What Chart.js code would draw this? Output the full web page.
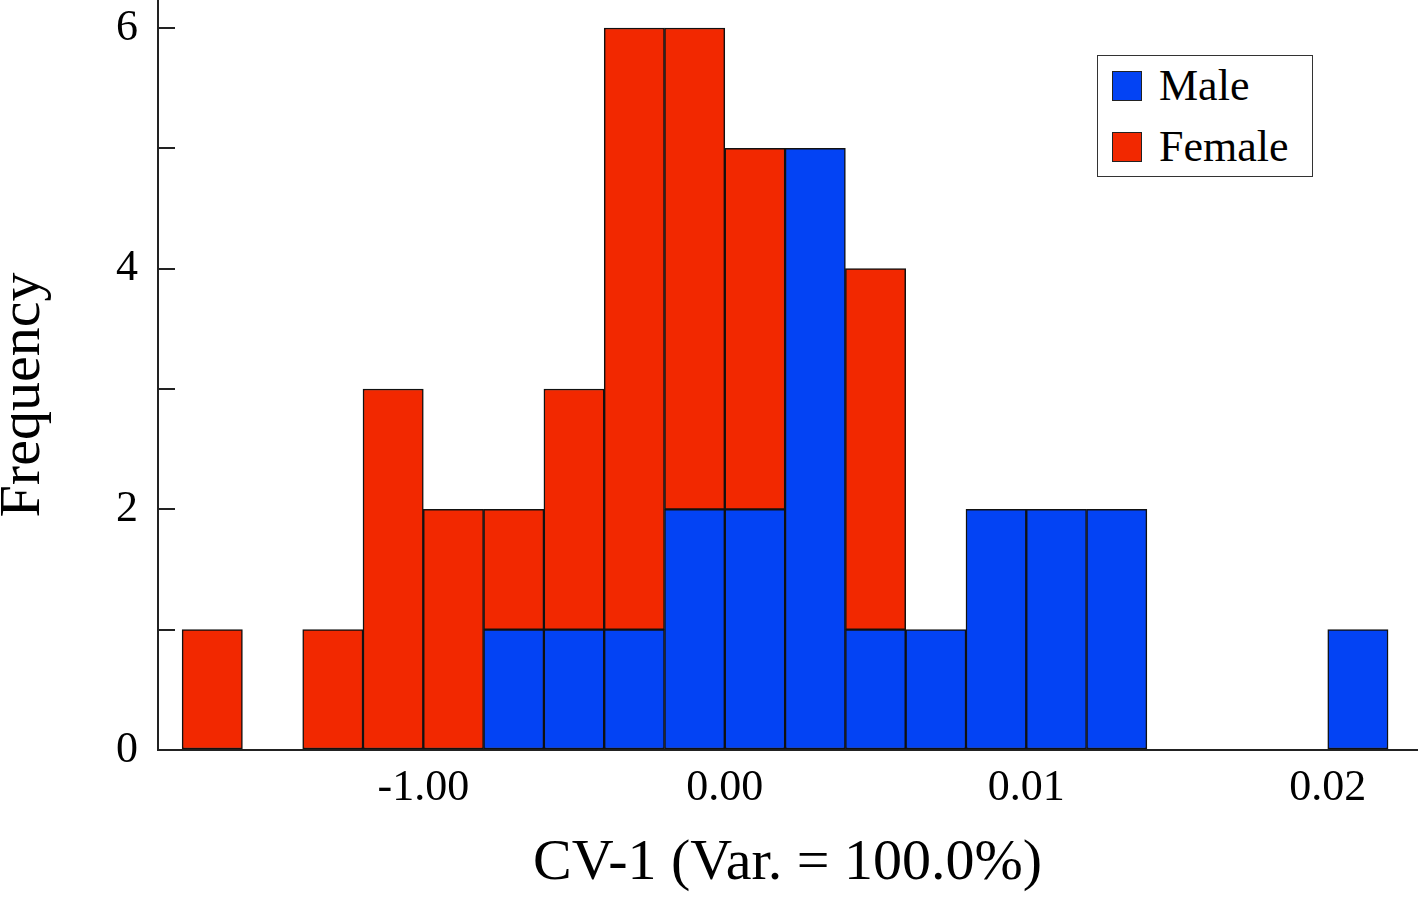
<!DOCTYPE html>
<html>
<head>
<meta charset="utf-8">
<script src="https://cdn.jsdelivr.net/npm/chart.js@4.4.0/dist/chart.umd.min.js"></script>
<style>
    body { margin: 0; background: #fff; }
    #wrap { position: relative; width: 1418px; height: 899px; }
    #legend {
        position: absolute; left: 1097px; top: 55px; width: 214px; height: 120px;
        border: 1.5px solid #333; background: #fff;
        font-family: 'Liberation Serif', 'Times New Roman', serif; font-size: 44px; color: #000;
    }
    #legend .item { position: absolute; left: 14px; display: flex; align-items: center; height: 30px; line-height: 30px; }
    #legend .swatch { width: 28px; height: 28px; border: 1.5px solid #222; margin-right: 17px; }
</style>
</head>
<body>
<div id="wrap">
    <canvas id="histChart"></canvas>
    <div id="legend"></div>
</div>
<script>
// 直方图的分箱（按箱序号）与频数
const bins = [0, 1, 2, 3, 4, 5, 6, 7, 8, 9, 10, 11, 12, 13, 14, 15, 16, 17, 18, 19];
const male = [0, 0, 0, 0, 0, 1, 1, 1, 2, 2, 5, 1, 1, 2, 2, 2, 0, 0, 0, 1];
const female = [1, 0, 1, 3, 2, 1, 2, 5, 4, 3, 0, 3, 0, 0, 0, 0, 0, 0, 0, 0];

// x 轴刻度（在箱边界处）及其标签
const xTickValues = [4, 9, 14, 19];
const xTickLabels = ['-1.00', '0.00', '0.01', '0.02'];
const yTickLabels = { 0: '0', 2: '2', 4: '4', 6: '6' };

const serif = "'Liberation Serif', 'Times New Roman', serif";
const BLUE = '#0343F4';
const RED = '#F22800';

function toPoints(values) {
    return bins.map((b, i) => ({ x: b + 0.5, y: values[i] }));
}

// y 轴标题（竖排），位置相对绘图区
const yTitlePlugin = {
    id: 'yTitle',
    afterDraw(chart) {
        const c = chart.ctx;
        const area = chart.chartArea;
        c.save();
        c.translate(24, (area.top + area.bottom) / 2 + 20);
        c.rotate(-Math.PI / 2);
        c.font = '58px ' + serif;
        c.fillStyle = '#000';
        c.textAlign = 'center';
        c.textBaseline = 'middle';
        c.fillText('Frequency', 0, 0);
        c.restore();
    }
};

document.addEventListener('DOMContentLoaded', function() {
    const ctx = document.getElementById('histChart');
    const chart = new Chart(ctx, {
        type: 'bar',
        data: {
            datasets: [{
                label: 'Male',
                data: toPoints(male),
                backgroundColor: BLUE,
                borderColor: '#111',
                borderWidth: 1.5,
                borderSkipped: false,
                barPercentage: 1,
                categoryPercentage: 1
            }, {
                label: 'Female',
                data: toPoints(female),
                backgroundColor: RED,
                borderColor: '#111',
                borderWidth: 1.5,
                borderSkipped: false,
                barPercentage: 1,
                categoryPercentage: 1
            }]
        },
        options: {
            responsive: true,
            maintainAspectRatio: false,
            animation: false,
            layout: { autoPadding: false, padding: { top: 0, right: 1, bottom: 0, left: 0 } },
            plugins: {
                legend: { display: false },
                tooltip: { enabled: false }
            },
            scales: {
                x: {
                    type: 'linear',
                    stacked: true,
                    offset: false,
                    min: -0.4,
                    max: 20.48,
                    afterBuildTicks: scale => {
                        scale.ticks = xTickValues.map(v => ({ value: v }));
                    },
                    afterFit: scale => {
                        scale.height = 149;
                        scale.paddingLeft = 0;
                        scale.paddingRight = 0;
                    },
                    grid: { display: false, drawTicks: false, offset: false },
                    border: { display: true, color: '#222', width: 2 },
                    ticks: {
                        padding: 16,
                        color: '#000',
                        font: { family: serif, size: 44, lineHeight: 1 },
                        callback: v => xTickLabels[xTickValues.indexOf(v)] || ''
                    },
                    title: {
                        display: true,
                        text: 'CV-1 (Var. = 100.0%)',
                        color: '#000',
                        font: { family: serif, size: 58, lineHeight: 1 },
                        padding: { top: 0, bottom: 6 }
                    }
                },
                y: {
                    stacked: true,
                    min: 0,
                    max: 6.233,
                    afterFit: scale => {
                        scale.width = 158;
                        scale.paddingTop = 0;
                        scale.paddingBottom = 0;
                    },
                    grid: { display: true, drawOnChartArea: false, drawTicks: true, tickLength: -17, color: '#222', lineWidth: 2 },
                    border: { display: true, color: '#222', width: 2 },
                    ticks: {
                        stepSize: 1,
                        includeBounds: false,
                        padding: 37,
                        color: '#000',
                        font: { family: serif, size: 44, lineHeight: 1 },
                        callback: v => yTickLabels[v] !== undefined ? yTickLabels[v] : ''
                    },
                    title: { display: false }
                }
            }
        },
        plugins: [yTitlePlugin]
    });

    // 图例：由数据集生成
    const legend = document.getElementById('legend');
    chart.data.datasets.forEach((ds, i) => {
        const item = document.createElement('div');
        item.className = 'item';
        item.style.top = (15 + i * 61) + 'px';
        const sw = document.createElement('span');
        sw.className = 'swatch';
        sw.style.background = ds.backgroundColor;
        const txt = document.createElement('span');
        txt.textContent = ds.label;
        item.appendChild(sw);
        item.appendChild(txt);
        legend.appendChild(item);
    });
});
</script>
</body>
</html>
